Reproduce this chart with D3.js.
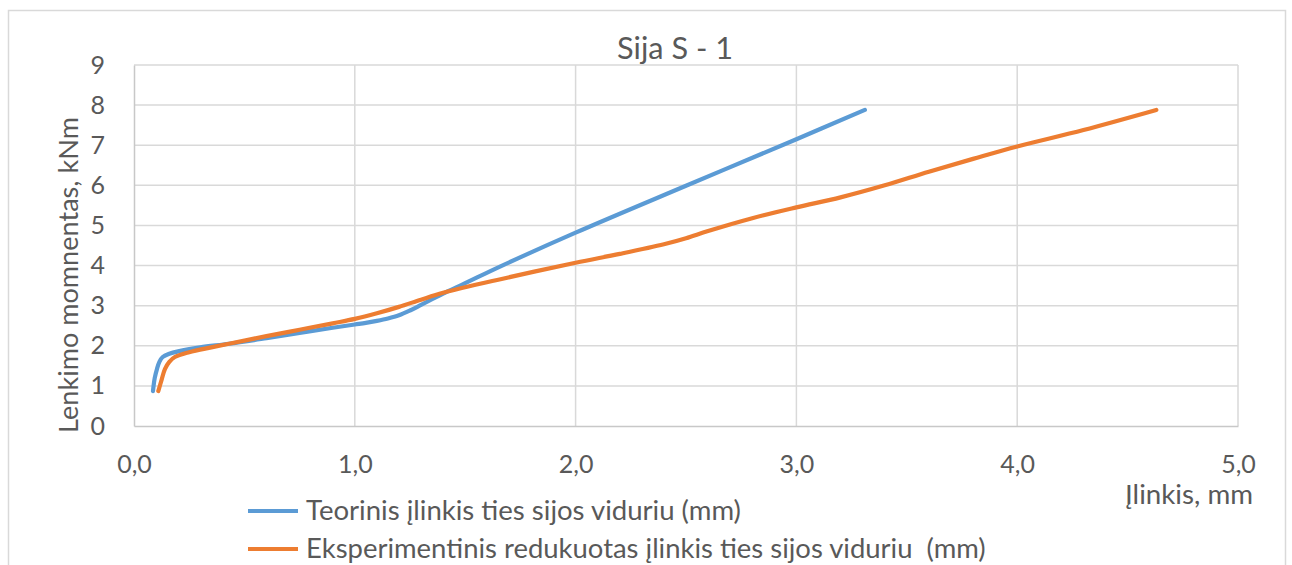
<!DOCTYPE html>
<html>
<head>
<meta charset="utf-8">
<script src="https://cdn.jsdelivr.net/npm/d3@7"></script>
<style>
  html, body { margin: 0; padding: 0; background: #fff; }
  svg { display: block; font-family: Lato, "Noto Sans", sans-serif; }
</style>
</head>
<body>
<svg id="chart" width="1292" height="565"></svg>
<script>
// Deflection (mm) vs bending moment (kNm), beam S-1
const titleText = "Sija S - 1";
const yAxisTitle = "Lenkimo momnentas, kNm";
const xAxisTitle = "Įlinkis, mm";
const seriesNames = [
  "Teorinis įlinkis ties sijos viduriu (mm)",
  "Eksperimentinis redukuotas įlinkis ties sijos viduriu  (mm)"
];
const xTicks = [0, 1, 2, 3, 4, 5];
const yTicks = [0, 1, 2, 3, 4, 5, 6, 7, 8, 9];

// theoretical curve: [deflection, moment]
const theoretical = [
  [0.086, 0.87], [0.094, 1.20], [0.104, 1.42], [0.115, 1.60], [0.13, 1.72],
  [0.16, 1.80], [0.20, 1.86], [0.30, 1.96], [0.43, 2.05], [0.60, 2.19],
  [0.75, 2.32], [0.90, 2.45], [1.00, 2.53], [1.05, 2.57], [1.10, 2.62],
  [1.15, 2.68], [1.20, 2.76], [1.25, 2.88], [1.30, 3.02], [1.35, 3.16],
  [1.40, 3.30], [1.50, 3.56], [1.66, 3.98], [2.00, 4.82], [2.50, 5.99],
  [3.00, 7.15], [3.31, 7.88]
];
// experimental reduced curve: [deflection, moment]
const experimental = [
  [0.110, 0.87], [0.125, 1.15], [0.14, 1.42], [0.16, 1.60], [0.185, 1.72],
  [0.25, 1.84], [0.35, 1.96], [0.43, 2.05], [0.60, 2.24], [0.75, 2.40],
  [0.90, 2.56], [1.00, 2.67], [1.10, 2.81], [1.20, 2.97], [1.30, 3.15],
  [1.40, 3.32], [1.66, 3.66], [2.00, 4.07], [2.20, 4.29], [2.40, 4.53],
  [2.50, 4.68], [2.60, 4.86], [2.80, 5.18], [3.00, 5.45], [3.20, 5.70],
  [3.40, 6.00], [3.60, 6.34], [3.80, 6.66], [4.00, 6.97], [4.30, 7.38],
  [4.63, 7.88]
];
const colors = ["#5B9BD5", "#ED7D31"];

const svg = d3.select("#chart");
const textColor = "#595959";
const plot = { left: 134, right: 1238, top: 65, bottom: 426 };

// outer chart frame
svg.append("rect")
  .attr("x", 8.5).attr("y", 10.5)
  .attr("width", 1277).attr("height", 600)
  .attr("fill", "#fff").attr("stroke", "#d9d9d9").attr("stroke-width", 1.5);

const x = d3.scaleLinear().domain([0, 5]).range([plot.left, plot.right]);
const y = d3.scaleLinear().domain([0, 9]).range([plot.bottom, plot.top]);

// gridlines
const grid = svg.append("g");
grid.selectAll("line.h").data(yTicks.filter(d => d > 0)).join("line")
  .attr("x1", plot.left).attr("x2", plot.right)
  .attr("y1", d => y(d)).attr("y2", d => y(d))
  .attr("stroke", "#d9d9d9").attr("stroke-width", 1.5);
grid.selectAll("line.v").data(xTicks.filter(d => d > 0)).join("line")
  .attr("y1", plot.top).attr("y2", plot.bottom)
  .attr("x1", d => x(d)).attr("x2", d => x(d))
  .attr("stroke", "#d9d9d9").attr("stroke-width", 1.5);

// axes
const tickFont = 25;
const fmt = d => d3.format(".1f")(d).replace(".", ",");
const xAxis = svg.append("g")
  .attr("transform", `translate(0,${plot.bottom})`)
  .call(d3.axisBottom(x).tickValues(xTicks).tickFormat(fmt).tickSize(0).tickPadding(38));
const yAxis = svg.append("g")
  .attr("transform", `translate(${plot.left},0)`)
  .call(d3.axisLeft(y).tickValues(yTicks).tickFormat(d3.format("d")).tickSize(0).tickPadding(29));
[xAxis, yAxis].forEach(a => {
  a.select(".domain").attr("stroke", "#c8c8c8").attr("stroke-width", 1.5);
  a.selectAll("text").attr("fill", textColor).attr("font-size", tickFont)
    .attr("font-family", "Lato, 'Noto Sans', sans-serif");
});
xAxis.selectAll("text").attr("dy", "0.35em");

// series lines
const line = d3.line()
  .x(d => x(d[0])).y(d => y(d[1]))
  .curve(d3.curveCatmullRom.alpha(0.5));
[theoretical, experimental].forEach((data, i) => {
  svg.append("path")
    .datum(data)
    .attr("d", line)
    .attr("fill", "none")
    .attr("stroke", colors[i])
    .attr("stroke-width", 4.2)
    .attr("stroke-linecap", "round")
    .attr("stroke-linejoin", "round");
});

// scale a text's font size so its rendered width fits the given span
function fitWidth(sel, width, base) {
  sel.attr("font-size", base);
  const w = sel.node().getComputedTextLength();
  sel.attr("font-size", base * width / w);
}

// title
const title = svg.append("text")
  .attr("x", 675).attr("y", 48).attr("dy", "0.35em")
  .attr("text-anchor", "middle").attr("fill", textColor)
  .text(titleText);
fitWidth(title, 116, 24);

// axis titles
const yTitle = svg.append("text")
  .attr("transform", `translate(78,275) rotate(-90)`)
  .attr("text-anchor", "middle").attr("fill", textColor)
  .text(yAxisTitle);
fitWidth(yTitle, 316, 22);

const xTitle = svg.append("text")
  .attr("x", 1253).attr("y", 494).attr("dy", "0.35em")
  .attr("text-anchor", "end").attr("fill", textColor)
  .text(xAxisTitle);
fitWidth(xTitle, 128, 22);

// legend
const legendY = [511, 549];
seriesNames.forEach((name, i) => {
  const g = svg.append("g");
  g.append("line")
    .attr("x1", 248).attr("x2", 298)
    .attr("y1", legendY[i]).attr("y2", legendY[i])
    .attr("stroke", colors[i]).attr("stroke-width", 4.2);
  const t = g.append("text")
    .attr("x", 306).attr("y", legendY[i]).attr("dy", "0.33em")
    .attr("fill", textColor)
    .style("white-space", "pre")
    .text(name);
  fitWidth(t, i === 0 ? 435 : 680, 22);
});
</script>
</body>
</html>
